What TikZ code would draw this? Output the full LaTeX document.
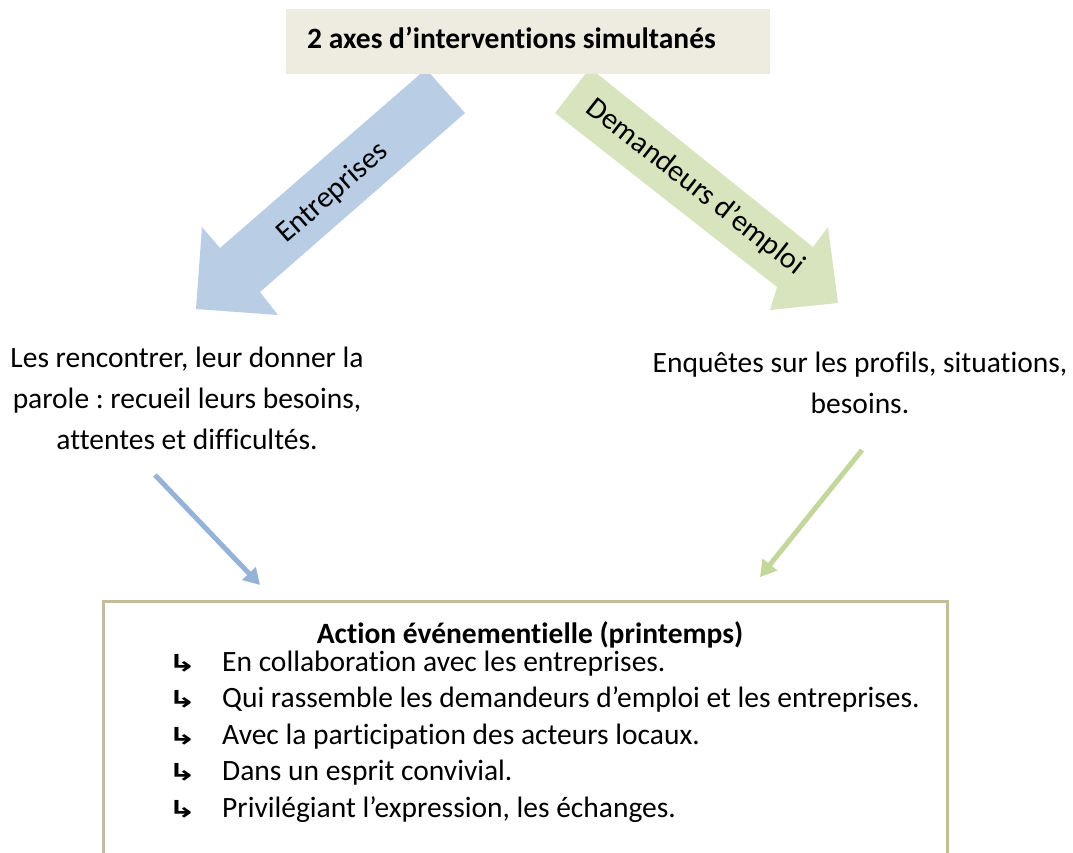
\documentclass[tikz,border=0pt]{standalone}
\usepackage{fontspec}
\setmainfont[Ligatures={NoCommon}]{Carlito}
\newfontfamily\symfont{DejaVu Sans}
\usetikzlibrary{arrows.meta}
\frenchspacing
\definecolor{beige}{HTML}{EEECE1}
\definecolor{bigblue}{HTML}{B9CDE5}
\definecolor{biggreen}{HTML}{D7E4BD}
\definecolor{smallblue}{HTML}{95B3D7}
\definecolor{smallgreen}{HTML}{C3D69B}
\definecolor{tanborder}{HTML}{C4BD97}
\tikzset{
  txt/.style={inner sep=0pt, font=\fontsize{29.5}{41}\selectfont, align=center},
  arrowlabel/.style={inner sep=0pt, font=\fontsize{30}{34}\selectfont},
  itemtxt/.style={inner sep=0pt, anchor=base west, font=\fontsize{29.5}{34}\selectfont},
  smallarrow/.style={line width=5pt, -{Triangle[length=16pt,width=18pt]}},
}
\begin{document}
\begin{tikzpicture}[x=1pt,y=-1pt]
\useasboundingbox (0,0) rectangle (1073,852);
% big arrows
\fill[bigblue] (426,69) -- (465,113) -- (260,292) -- (278,315) -- (196,309) -- (202,227) -- (220,248) -- cycle;
\fill[biggreen] (590,68) -- (555,113) -- (777,287) -- (770,310) -- (838,303) -- (828,227) -- (813,247) -- cycle;
\node[arrowlabel, rotate=41] (entr) at (333,193) {Entreprises};
\node[arrowlabel, rotate=-38] (dem) at (695,187) {Demandeurs d’emploi};
% top box
\fill[beige] (286,9) rectangle (770,74);
\node[inner sep=0pt, anchor=base west, font=\fontsize{29.5}{34}\selectfont\bfseries] (title) at (307,48) {2 axes d’interventions simultanés};
% side texts
\node[txt] (left) at (187,398) {Les rencontrer, leur donner la\\parole : recueil leurs besoins,\\attentes et difficultés.};
\node[txt] (right) at (860,383) {Enquêtes sur les profils, situations,\\besoins.};
% bottom box
\draw[tanborder, line width=3pt] (103,853) -- (103,601) -- (947,601) -- (947,853);
\node[inner sep=0pt, anchor=base, font=\fontsize{29.5}{34}\selectfont\bfseries] (head) at (530,643) {Action événementielle (printemps)};
\foreach \t [count=\i] in {{En collaboration avec les entreprises.},
  {Qui rassemble les demandeurs d’emploi et les entreprises.},
  {Avec la participation des acteurs locaux.},
  {Dans un esprit convivial.},
  {Privilégiant l’expression, les échanges.}}{
  \node[itemtxt] (b\i) at (168,{671+36.5*(\i-1)}) {\scalebox{1.3}[0.9]{\fontsize{26}{30}\symfont\bfseries ↳}};
  \node[itemtxt] (i\i) at (222,{671+36.5*(\i-1)}) {\t};
}
% small arrows
\coordinate (ls) at (155,475);
\coordinate (le) at (260,585);
\coordinate (rs) at (862,450);
\coordinate (re) at (760,577);
\draw[smallblue, smallarrow] (ls) -- (le);
\draw[smallgreen, smallarrow] (rs) -- (re);
\end{tikzpicture}
\end{document}
